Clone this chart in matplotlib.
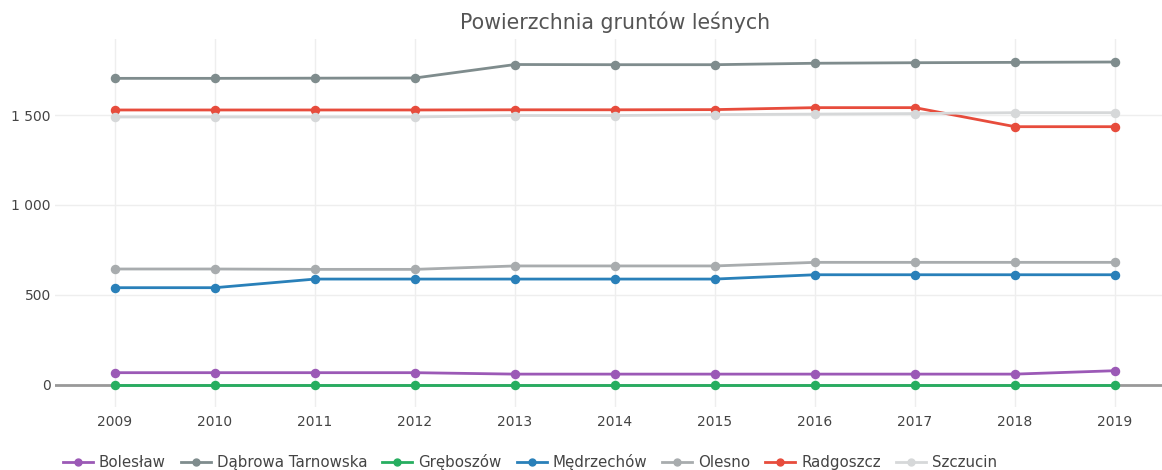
import matplotlib
matplotlib.use("Agg")
import matplotlib.pyplot as plt
from matplotlib.ticker import FuncFormatter

years = [2009, 2010, 2011, 2012, 2013, 2014, 2015, 2016, 2017, 2018, 2019]

boleslaw = [66, 66, 66, 66, 58, 58, 58, 58, 58, 58, 77]
dabrowa = [1704, 1704, 1705, 1706, 1781, 1780, 1780, 1788, 1791, 1793, 1795]
greboszow = [0, 0, 0, 0, 0, 0, 0, 0, 0, 0, 0]
medrzechow = [539, 539, 587, 587, 587, 587, 587, 611, 611, 611, 611]
olesno = [643, 643, 641, 641, 660, 660, 660, 680, 680, 680, 680]
radgoszcz = [1528, 1528, 1528, 1528, 1529, 1529, 1530, 1541, 1541, 1435, 1435]
szczucin = [1489, 1489, 1489, 1489, 1497, 1497, 1502, 1505, 1508, 1513, 1513]

series = [
    ("Bolesław", boleslaw, "#9b59b6"),
    ("Dąbrowa Tarnowska", dabrowa, "#7f8c8d"),
    ("Gręboszów", greboszow, "#27ae60"),
    ("Mędrzechów", medrzechow, "#2980b9"),
    ("Olesno", olesno, "#a8acae"),
    ("Radgoszcz", radgoszcz, "#e74c3c"),
    ("Szczucin", szczucin, "#d6d8d9"),
]

plt.rcParams['font.family'] = ['DejaVu Sans']

fig = plt.figure(figsize=(11.62, 4.70), dpi=100)
ax = fig.add_axes([55 / 1162, 1 - 407 / 470, 1 - 55 / 1162, (407 - 39) / 470])

for name, vals, color in series:
    ax.plot(years, vals, color=color, lw=2, marker="o", ms=5.8,
            mec=color, mfc=color, label=name, zorder=3)

ax.set_xlim(2008.4, 2019.47)
ax.set_ylim(-125, 1923)
ax.set_xticks(years)
ax.set_yticks([0, 500, 1000, 1500])
ax.yaxis.set_major_formatter(FuncFormatter(lambda v, p: f"{int(v):,}".replace(",", " ")))

ax.grid(True, color="#eeeeee", lw=1, zorder=0)
ax.axhline(0, color="#999999", lw=2, zorder=2)
for s in ax.spines.values():
    s.set_visible(False)
ax.tick_params(axis="both", length=0, labelsize=10, labelcolor="#444444")
ax.tick_params(axis="x", pad=6)
ax.tick_params(axis="y", pad=3)

fig.suptitle("Powierzchnia gruntów leśnych", x=615 / 1162, y=1 - 22 / 470,
             va="center", fontsize=14.8, color="#555555")

leg = fig.legend(loc="center left", bbox_to_anchor=(57 / 1162, 1 - 462 / 470),
                 ncol=7, frameon=False, fontsize=10.8, handlelength=2.0,
                 columnspacing=1.0, handletextpad=0.4, borderaxespad=0)
for t in leg.get_texts():
    t.set_color("#444444")
for h in leg.legend_handles:
    h.set_markersize(5)

fig.savefig("out.png", dpi=100)
